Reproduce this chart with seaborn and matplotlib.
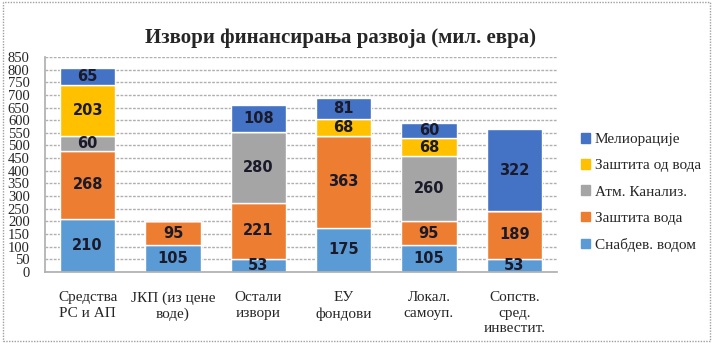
import matplotlib
matplotlib.use("Agg")
import matplotlib.pyplot as plt
import seaborn as sns
import numpy as np
from matplotlib.patches import Rectangle

categories = ["Средства\nРС и АП", "ЈКП (из цене\nводе)", "Остали\nизвори",
              "ЕУ\nфондови", "Локал.\nсамоуп.", "Сопств.\nсред.\nинвестит."]
series_names = ["Снабдев. водом", "Заштита вода", "Атм. Канализ.",
                "Заштита од вода", "Мелиорације"]
snabdev = [210, 105, 53, 175, 105, 53]
zastita_voda = [268, 95, 221, 363, 95, 189]
atm_kanaliz = [60, 0, 280, 0, 260, 0]
zastita_od_voda = [203, 0, 0, 68, 68, 0]
melioracije = [65, 0, 108, 81, 60, 322]
yticks = list(range(0, 851, 50))
title = "Извори финансирања развоја (мил. евра)"

series_values = [snabdev, zastita_voda, atm_kanaliz, zastita_od_voda, melioracije]
colors = ["#5B9BD5", "#ED7D31", "#A5A5A5", "#FFC000", "#4472C4"]

sns.set_theme(style="white")
plt.rcParams['font.family'] = ['Liberation Serif', 'DejaVu Serif']
serif = ['Liberation Serif', 'DejaVu Serif']

fig = plt.figure(figsize=(7.14, 3.43), dpi=100)
ax = fig.add_axes([0.063, 0.207, 0.717, 0.627])

bottom = np.zeros(len(categories))
for name, vals, col in zip(series_names, series_values, colors):
    sns.barplot(x=categories, y=vals, bottom=bottom, color=col, width=0.65,
                saturation=1, ax=ax, label=name)
    cont = ax.containers[-1]
    labels = [str(v) if v > 0 else "" for v in vals]
    ax.bar_label(cont, labels=labels, label_type="center",
                 fontsize=10.5, fontweight="bold", family="DejaVu Sans", color="#1a1a2a")
    bottom = bottom + np.array(vals)

ax.set_ylim(0, 850)
ax.set_xlim(-0.5, 5.5)
ax.set_yticks(yticks)
ax.set_yticklabels([str(t) for t in yticks], fontsize=10.5, family=serif)
ax.set_xticks(range(len(categories)))
ax.set_xticklabels(categories, fontsize=11, family=serif, linespacing=1.25)
ax.tick_params(axis="y", length=0, pad=11)
ax.tick_params(axis="x", length=0, pad=14)
ax.yaxis.grid(True, color="#b0b0b0", linestyle=(0, (2, 1)), linewidth=1)
ax.set_axisbelow(True)
for s in ["top", "right"]:
    ax.spines[s].set_visible(False)
ax.spines["left"].set_color("#b0b0b0")
ax.spines["left"].set_linestyle((0, (2, 1)))
ax.spines["bottom"].set_color("#b0b0b0")
ax.set_ylabel("")

handles = [Rectangle((0, 0), 1, 1, color=c) for c in colors][::-1]
ax.legend(handles, series_names[::-1], loc="center left", bbox_to_anchor=(1.02, 0.37),
          frameon=False, prop={"family": serif, "size": 11}, handlelength=0.6,
          handleheight=0.6, handletextpad=0.3, labelspacing=0.85)

fig.text(0.477, 0.888, title, ha="center", va="center", fontsize=15,
         fontweight="bold", family=serif)

fig.patches.append(Rectangle((0.004, 0.006), 0.99, 0.988, transform=fig.transFigure,
                             fill=False, edgecolor="#a0a0a0", linestyle=(0, (1, 1)),
                             linewidth=1))

fig.savefig("out.png", dpi=100)
